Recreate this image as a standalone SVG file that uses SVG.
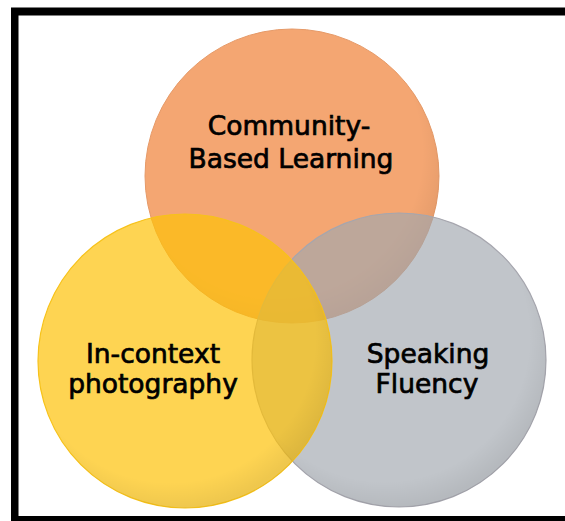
<svg xmlns="http://www.w3.org/2000/svg" width="565" height="521" viewBox="0 0 565 521">
  <style>
    .lbl { font-family: "DejaVu Sans", "Liberation Sans", sans-serif; font-size: 26.5px; fill: #000; stroke: #000; stroke-width: 0.7px; text-anchor: middle; }
  </style>
  <defs>
    <radialGradient id="shade" cx="45%" cy="42%" r="58%">
      <stop offset="0.85" stop-color="#000" stop-opacity="0"/>
      <stop offset="1" stop-color="#000" stop-opacity="0.06"/>
    </radialGradient>
  </defs>
  <rect x="0" y="0" width="565" height="521" fill="#fff"/>
  <path d="M11 7.5 H570 V526 H11 Z M18.5 15.5 H570 V516 H18.5 Z" fill="#000" fill-rule="evenodd"/>

  <g id="community">
    <circle cx="292" cy="176" r="147" fill="#F4A672" stroke="#E69A68" stroke-width="1"/>
    <circle cx="292" cy="176" r="147" fill="url(#shade)"/>
    <text class="lbl" x="289" y="135">Community-</text>
    <text class="lbl" x="291" y="168">Based Learning</text>
  </g>

  <g id="speaking">
    <circle cx="399" cy="360" r="147" fill="#A1A7AF" fill-opacity="0.66" stroke="#A6A6AE" stroke-width="1.2"/>
    <circle cx="399" cy="360" r="147" fill="url(#shade)"/>
    <text class="lbl" x="428" y="363">Speaking</text>
    <text class="lbl" x="427" y="393">Fluency</text>
  </g>

  <g id="photography">
    <circle cx="185" cy="361" r="147" fill="#FEC208" fill-opacity="0.7" stroke="#F7C21A" stroke-width="1.2"/>
    <circle cx="185" cy="361" r="147" fill="url(#shade)"/>
    <text class="lbl" x="153" y="363">In-context</text>
    <text class="lbl" x="153" y="393">photography</text>
  </g>
</svg>
